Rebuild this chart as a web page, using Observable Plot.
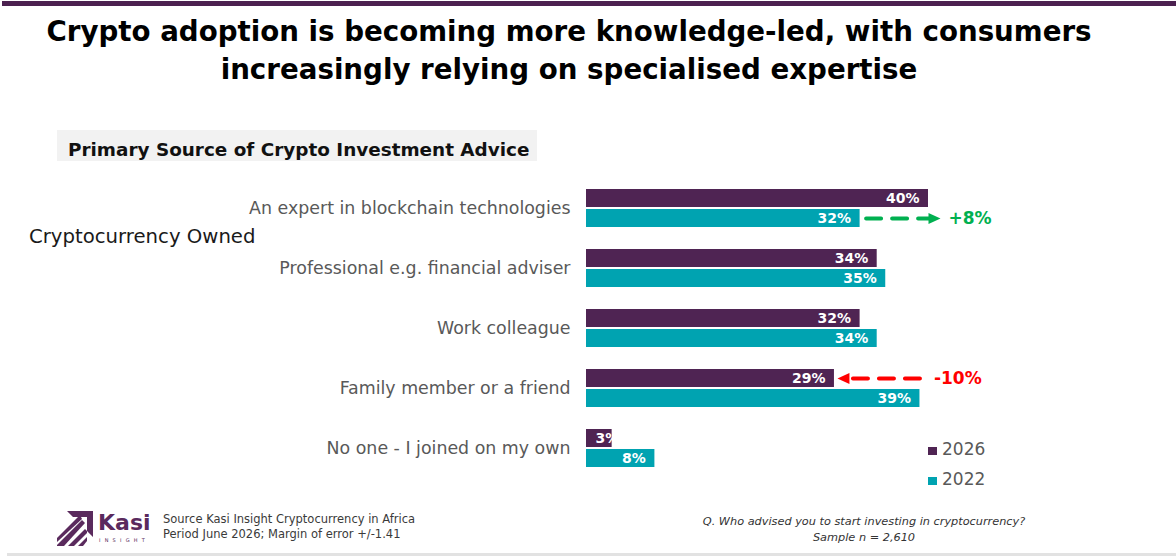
<!DOCTYPE html>
<html>
<head>
<meta charset="utf-8">
<script src="https://cdn.jsdelivr.net/npm/d3@7"></script>
<script src="https://cdn.jsdelivr.net/npm/@observablehq/plot@0.6"></script>
<style>
  html, body { margin: 0; padding: 0; background: #ffffff; }
  body { font-family: "DejaVu Sans", sans-serif; }
  #page { position: relative; width: 1176px; height: 556px; overflow: hidden; background: #fff; }
  #page > * { position: absolute; }
  .t { line-height: 1; white-space: nowrap; }
  #topRule { top: 1px; left: 2px; right: 0; height: 5px; background: #4c2150; }
  #bottomRule { top: 553px; left: 7px; right: 0; height: 3px; background: #e2e2e2; }
  #title { top: 13px; left: 0; width: 1138px; text-align: center; font-weight: bold; font-size: 27.7px; line-height: 38px; color: #000; }
  #subBox { top: 130px; left: 57px; width: 480px; height: 31px; background: #f2f2f2; }
  #subtitle { top: 140.6px; left: 68px; font-weight: bold; font-size: 18.4px; color: #111; }
  #owned { top: 227.3px; left: 29px; font-size: 19.7px; color: #1a1a1a; }
  #chart { top: 0; left: 0; }
  .legendItem { left: 928px; font-size: 17px; color: #595959; }
  .legendItem span { display: inline-block; width: 9px; height: 8px; margin-right: 5px; vertical-align: 0px; }
  .source { left: 163px; font-size: 11.5px; color: #3a3a3a; }
  .question { left: 664px; width: 400px; text-align: center; font-style: italic; font-size: 11.3px; color: #333; }
  #logoText { top: 512px; left: 98px; font-weight: bold; font-size: 22px; color: #5a2a5d; }
  #logoSub { top: 538px; left: 99px; font-size: 5px; letter-spacing: 4.2px; color: #5a2a5d; }
</style>
</head>
<body>
<div id="page">
  <div id="topRule"></div>
  <div id="title">Crypto adoption is becoming more knowledge-led, with consumers<br>increasingly relying on specialised expertise</div>
  <div id="subBox"></div>
  <div id="subtitle" class="t">Primary Source of Crypto Investment Advice</div>
  <div id="owned" class="t">Cryptocurrency Owned</div>
  <div id="chart"></div>
  <div id="legend2026" class="t legendItem" style="top:441px"><span></span>2026</div>
  <div id="legend2022" class="t legendItem" style="top:471px"><span></span>2022</div>
  <svg id="logoMark" style="top:510px;left:56px" width="38" height="38" viewBox="0 0 38 38">
    <g fill="#5a2a5d">
      <polygon points="11,1 37,1 37,27 31,21 31,7 17,7"/>
      <polygon points="1,35 26,10 29,13 8,36 1,36"/>
      <polygon points="12,36 29,19 31,21 31,23 18,36"/>
      <polygon points="1,28 22,7 25,7 26,9 1,32"/>
      <polygon points="22,36 31,27 31,31 27,36"/>
    </g>
  </svg>
  <div id="logoText" class="t">Kasi</div>
  <div id="logoSub" class="t">INSIGHT</div>
  <div class="t source" style="top:514.3px">Source Kasi Insight Cryptocurrency in Africa</div>
  <div class="t source" style="top:528.8px">Period June 2026; Margin of error +/-1.41</div>
  <div class="t question" style="top:516px">Q. Who advised you to start investing in cryptocurrency?</div>
  <div class="t question" style="top:532px">Sample n = 2,610</div>
  <div id="bottomRule"></div>
</div>
<script>
// Survey answers: primary source of crypto investment advice, share of owners (%)
const categories = [
  "An expert in blockchain technologies",
  "Professional e.g. financial adviser",
  "Work colleague",
  "Family member or a friend",
  "No one - I joined on my own"
];
const years = ["2026", "2022"];
const share2026 = [40, 34, 32, 29, 3];
const share2022 = [32, 35, 34, 39, 8];
const yearColors = ["#4f2453", "#00a3b1"];

// Sources whose change between waves is called out with an arrow
const highlighted = ["An expert in blockchain technologies", "Family member or a friend"];

const rows = categories.flatMap((category, i) => [
  {category, year: "2026", value: share2026[i]},
  {category, year: "2022", value: share2022[i]}
]);

const changes = highlighted.map((category) => {
  const i = categories.indexOf(category);
  const from = share2022[i], to = share2026[i], change = to - from;
  return {
    category, from, to, change,
    row: change > 0 ? "2022" : "2026",
    right: Math.max(from, to),
    label: (change > 0 ? "+" : "") + change + "%"
  };
});
const rises = changes.filter((d) => d.change > 0);
const falls = changes.filter((d) => d.change < 0);

const green = "#00b050", red = "#ff0000";

// Filled arrow heads
const headRight = {draw(ctx) { ctx.moveTo(6, 0); ctx.lineTo(-6, -5.5); ctx.lineTo(-6, 5.5); ctx.closePath(); }};
const headLeft = {draw(ctx) { ctx.moveTo(-6, 0); ctx.lineTo(6, -5.5); ctx.lineTo(6, 5.5); ctx.closePath(); }};

const chart = Plot.plot({
  width: 1176,
  height: 556,
  marginLeft: 586,
  marginRight: 248,
  marginTop: 178,
  marginBottom: 78,
  style: {fontFamily: "DejaVu Sans, sans-serif", background: "transparent", overflow: "visible"},
  x: {domain: [0, 40], axis: null},
  y: {domain: years, axis: null, paddingInner: 0.1, paddingOuter: 0},
  fy: {domain: categories, paddingInner: 0.3667, paddingOuter: 0.1833, axis: null},
  color: {domain: years, range: yearColors},
  marks: [
    Plot.axisFy({anchor: "left", tickSize: 0, tickPadding: 16, fontSize: 17.4, color: "#595959", label: null}),
    Plot.barX(rows, {fy: "category", y: "year", x: "value", fill: "year"}),
    Plot.text(rows.filter((d) => d.value >= 5), {
      fy: "category", y: "year", x: "value", text: (d) => d.value + "%",
      textAnchor: "end", dx: -9, fill: "white", fontWeight: "bold", fontSize: 14
    }),
    Plot.text(rows.filter((d) => d.value < 5), {
      fy: "category", y: "year", x: 0, text: (d) => d.value + "%",
      textAnchor: "start", dx: 9, fill: "white", fontWeight: "bold", fontSize: 14
    }),
    // dashed shafts from the 2022 share towards the 2026 share
    Plot.arrow(rises, {
      fy: "category", x1: "from", x2: "to", y1: "row", y2: "row",
      stroke: green, strokeWidth: 4, strokeDasharray: "15 11", headLength: 0, insetStart: 6, insetEnd: -2
    }),
    Plot.arrow(falls, {
      fy: "category", x1: "from", x2: "to", y1: "row", y2: "row",
      stroke: red, strokeWidth: 4, strokeDasharray: "15 11", headLength: 0, insetStart: 0, insetEnd: 8
    }),
    Plot.dot(rises, {fy: "category", x: "to", y: "row", symbol: headRight, fill: green, stroke: null, dx: 6}),
    Plot.dot(falls, {fy: "category", x: "to", y: "row", symbol: headLeft, fill: red, stroke: null, dx: 9}),
    Plot.text(rises, {fy: "category", x: "right", y: "row", text: "label", textAnchor: "start", dx: 20, fill: green, fontWeight: "bold", fontSize: 17}),
    Plot.text(falls, {fy: "category", x: "right", y: "row", text: "label", textAnchor: "start", dx: 14, fill: red, fontWeight: "bold", fontSize: 17})
  ]
});
document.getElementById("chart").appendChild(chart);

// legend swatches share the bar colours
document.querySelector("#legend2026 span").style.background = yearColors[0];
document.querySelector("#legend2022 span").style.background = yearColors[1];
</script>
</body>
</html>
